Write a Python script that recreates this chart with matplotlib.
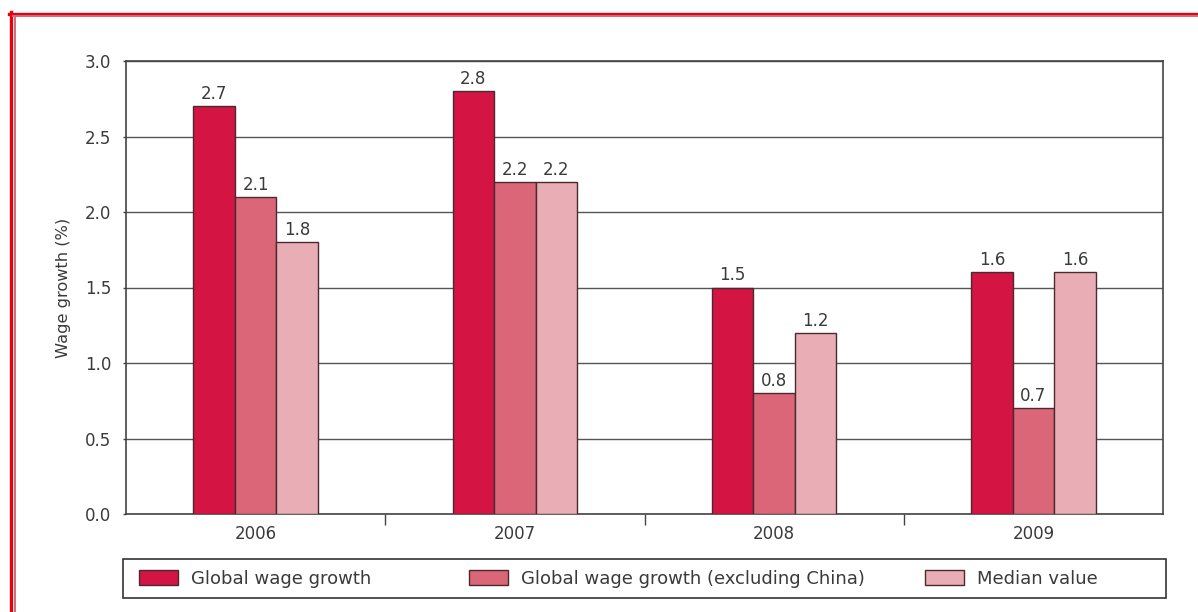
import matplotlib
matplotlib.use("Agg")
import matplotlib.pyplot as plt
from matplotlib.lines import Line2D
from matplotlib.patches import Rectangle
import numpy as np

years = ["2006", "2007", "2008", "2009"]
global_growth = [2.7, 2.8, 1.5, 1.6]
excl_china = [2.1, 2.2, 0.8, 0.7]
median_value = [1.8, 2.2, 1.2, 1.6]

series_names = ["Global wage growth",
                "Global wage growth (excluding China)",
                "Median value"]
series_colors = ["#D41443", "#DA6677", "#E8ADB5"]

plt.rcParams["font.family"] = ["DejaVu Sans"]
text_color = "#3a3a3a"

fig = plt.figure(figsize=(11.98, 6.12), dpi=100)
W, H = 1198, 612
ax = fig.add_axes([126 / W, 1 - 514 / H, (1163 - 126) / W, (514 - 61) / H])

x = np.arange(len(years))
width = 0.16
offsets = [-width, 0, width]
handles = []
for vals, off, col, name in zip([global_growth, excl_china, median_value],
                                offsets, series_colors, series_names):
    bars = ax.bar(x + off, vals, width, color=col, edgecolor="#4a2a30",
                  linewidth=1.0, zorder=3, label=name)
    handles.append(bars)
    for xi, v in zip(x + off, vals):
        ax.text(xi, v + 0.02, f"{v:.1f}", ha="center", va="bottom",
                fontsize=12, color=text_color, zorder=4)

ax.set_xlim(-0.5, len(years) - 0.5)
ax.set_ylim(0, 3.0)
ax.set_yticks(np.arange(0, 3.01, 0.5))
ax.set_yticklabels([f"{t:.1f}" for t in np.arange(0, 3.01, 0.5)],
                   fontsize=12, color=text_color)
ax.yaxis.grid(True, color="#555555", linewidth=1.0, zorder=0)
ax.set_axisbelow(True)

# major ticks mark the boundaries between years, labels sit in the middle
ax.set_xticks(x[:-1] + 0.5)
ax.set_xticklabels([])
ax.set_xticks(x, minor=True)
ax.set_xticklabels(years, minor=True, fontsize=12, color=text_color)
ax.tick_params(axis="x", which="major", direction="out", length=8,
               width=1, color="#444444")
ax.tick_params(axis="x", which="minor", length=0, pad=8)
ax.tick_params(axis="y", direction="out", length=2, width=1,
               color="#444444", pad=8.5)

for s in ax.spines.values():
    s.set_color("#444444")
    s.set_linewidth(1.2)

ax.set_ylabel("Wage growth (%)", fontsize=11.7, color=text_color,
              labelpad=10)

# legend sits inside its own framed box under the axes,
# one entry per legend so each key can be placed on its own
box = Rectangle((123 / W, 1 - 598 / H), (1166 - 123) / W, 39 / H,
                transform=fig.transFigure, facecolor="white",
                edgecolor="#333333", linewidth=1.2)
fig.patches.append(box)
legend_fs = 13
key_left = [139, 469, 925]
pad_px = 0.9 * legend_fs * 100 / 72
for h, left in zip(handles, key_left):
    fig.legend(handles=[h], loc="center left",
               bbox_to_anchor=((left - pad_px) / W, 1 - 579 / H),
               frameon=False, fontsize=legend_fs, handlelength=2.16,
               handleheight=0.9, handletextpad=0.72, labelcolor=text_color)

# outer page frame: bright red rule with a thinner inner rule
fig.add_artist(Line2D([9 / W, 1], [1 - 13.5 / H, 1 - 13.5 / H],
                      transform=fig.transFigure, color="#E60012", linewidth=2.4))
fig.add_artist(Line2D([10.5 / W, 10.5 / W], [0, 1 - 12 / H],
                      transform=fig.transFigure, color="#E60012", linewidth=2.4))
fig.add_artist(Line2D([13 / W, 1], [1 - 16 / H, 1 - 16 / H],
                      transform=fig.transFigure, color="#C8707E", linewidth=1.4))
fig.add_artist(Line2D([14.5 / W, 14.5 / W], [0, 1 - 16 / H],
                      transform=fig.transFigure, color="#C8707E", linewidth=1.4))

fig.savefig("out.png", dpi=100)
